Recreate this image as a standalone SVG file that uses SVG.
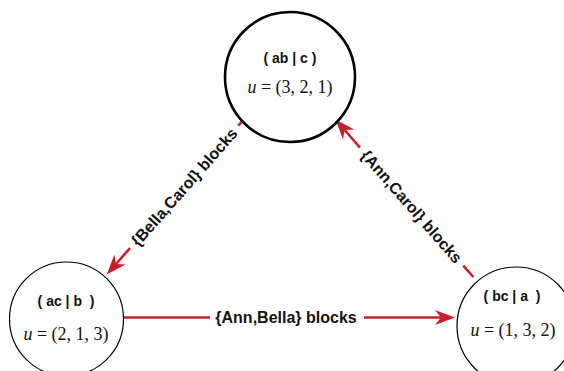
<svg xmlns="http://www.w3.org/2000/svg" width="564" height="371" viewBox="0 0 564 371">
<style>
.node{fill:#fff;stroke:#000}
.lbl{font-family:"Liberation Sans",Arial,sans-serif;font-weight:bold;font-size:14px;text-anchor:middle;fill:#111;white-space:pre}
.math{font-family:"Liberation Serif","Times New Roman",serif;font-size:18px;text-anchor:middle;fill:#111}
.edge{fill:none;stroke:#c71f2b;stroke-width:2.6}
.elbl{font-family:"Liberation Sans",Arial,sans-serif;font-weight:bold;font-size:16px;text-anchor:middle;fill:#111}
</style>
<defs>
<marker id="arr" markerUnits="userSpaceOnUse" markerWidth="22" markerHeight="18" viewBox="-1 -9 22 18" refX="6" refY="0" orient="auto">
<path d="M20,0 L0,-7.5 L6,0 L0,7.5 Z" fill="#c71f2b"/>
</marker>
</defs>
<rect width="564" height="371" fill="#fff"/>
<g id="connectors">
<path class="edge" d="M124,317.5 H210"/>
<path class="edge" d="M364,317.5 H441" marker-end="url(#arr)"/>
<text class="elbl" x="286" y="317.5" dy="0.35em">{Ann,Bella} blocks</text>
<path class="edge" d="M243.3,120 L238.3,125.6"/>
<path class="edge" d="M130,248.1 L116,264" marker-end="url(#arr)"/>
<text class="elbl" transform="translate(184.2,186.9) rotate(-48.5)" dy="0.35em">{Bella,Carol} blocks</text>
<path class="edge" d="M473.3,277 L463.3,265.6"/>
<path class="edge" d="M360,147.6 L344.7,130" marker-end="url(#arr)"/>
<text class="elbl" transform="translate(411.7,206.6) rotate(48.8)" dy="0.35em">{Ann,Carol} blocks</text>
</g>
<g id="node-abc">
<circle class="node" cx="290" cy="77" r="65" stroke-width="2.6"/>
<text class="lbl" x="290" y="63" xml:space="preserve">( ab | c )</text>
<text class="math" x="290" y="93"><tspan font-style="italic">u</tspan> = (3, 2, 1)</text>
</g>
<g id="node-acb">
<circle class="node" cx="66.5" cy="319" r="57" stroke-width="1.2"/>
<text class="lbl" x="66" y="306" xml:space="preserve">( ac | b  )</text>
<text class="math" x="66" y="340"><tspan font-style="italic">u</tspan> = (2, 1, 3)</text>
</g>
<g id="node-bca">
<circle class="node" cx="516" cy="326" r="59" stroke-width="1.2"/>
<text class="lbl" x="512" y="301" xml:space="preserve">( bc | a  )</text>
<text class="math" x="513" y="336"><tspan font-style="italic">u</tspan> = (1, 3, 2)</text>
</g>
</svg>
